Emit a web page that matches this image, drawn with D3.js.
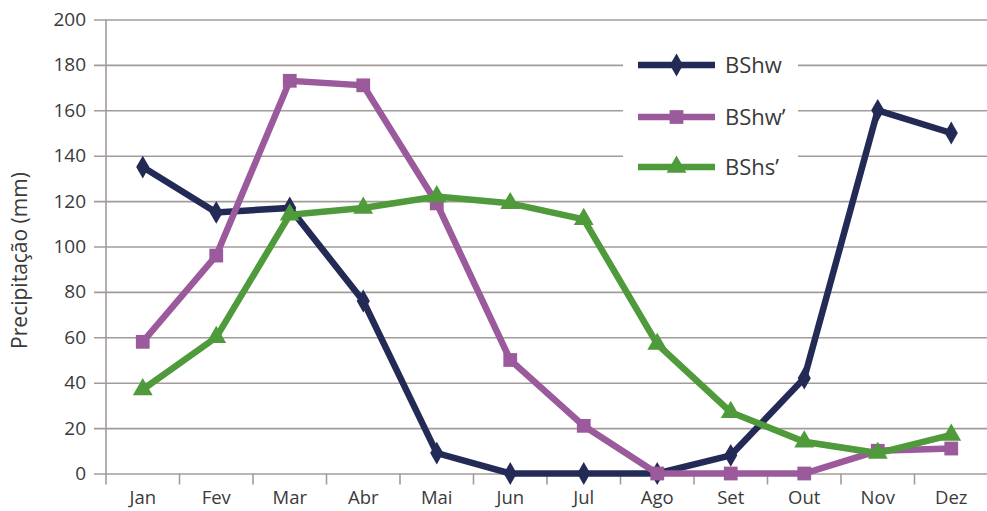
<!DOCTYPE html>
<html>
<head>
<meta charset="utf-8">
<script src="https://cdn.jsdelivr.net/npm/d3@7"></script>
<style>
  html, body { margin: 0; padding: 0; background: #ffffff; }
  svg { display: block; }
  text { font-family: "Open Sans", "Noto Sans", sans-serif; fill: #3a3a3a; }
</style>
</head>
<body>
<svg id="chart" width="987" height="511"></svg>
<script>
// Monthly precipitation (mm) for three semi-arid climate types
const months = ["Jan", "Fev", "Mar", "Abr", "Mai", "Jun", "Jul", "Ago", "Set", "Out", "Nov", "Dez"];
const bshw      = [135, 115, 117, 76, 9, 0, 0, 0, 8, 42, 160, 150];
const bshwPrime = [58, 96, 173, 171, 119, 50, 21, 0, 0, 0, 10, 11];
const bshsPrime = [37, 60, 114, 117, 122, 119, 112, 57, 27, 14, 9, 17];
const yTicks = [0, 20, 40, 60, 80, 100, 120, 140, 160, 180, 200];

const series = [
  { name: "BShw",  values: bshw,      color: "#232a56", marker: d3.symbolDiamond,  size: 150 },
  { name: "BShw\u2019", values: bshwPrime, color: "#9a5a9b", marker: d3.symbolSquare,   size: 190 },
  { name: "BShs\u2019", values: bshsPrime, color: "#4f9a3a", marker: d3.symbolTriangle, size: 170 }
];

const svg = d3.select("#chart");
const plotLeft = 106, plotRight = 988, plotTop = 19.5, plotBottom = 473.5;
const gridColor = "#a29c99";

const x = d3.scaleBand().domain(months).range([plotLeft, plotRight]);
const y = d3.scaleLinear().domain([0, 200]).range([plotBottom, plotTop]);

// horizontal gridlines with outward ticks
const yAxis = d3.axisLeft(y).tickValues(yTicks).tickSize(-(plotRight - plotLeft)).tickPadding(8);
const gy = svg.append("g").attr("transform", `translate(${plotLeft},0)`).call(yAxis);
gy.select(".domain").remove();
gy.selectAll(".tick line").attr("x1", -12).attr("stroke", gridColor).attr("stroke-width", 1.6);
gy.selectAll(".tick text").attr("x", -20).attr("font-size", 19).style("fill", "#3a3a3a");

// vertical axis line
svg.append("line").attr("x1", plotLeft).attr("x2", plotLeft)
  .attr("y1", plotTop).attr("y2", plotBottom + 11)
  .attr("stroke", gridColor).attr("stroke-width", 1.6);

// category axis, ticks sit between months
const gx = svg.append("g").attr("transform", `translate(0,${plotBottom})`)
  .call(d3.axisBottom(x).tickSize(0).tickPadding(17));
gx.select(".domain").remove();
gx.selectAll(".tick text").attr("font-size", 18.5).style("fill", "#3a3a3a");
svg.append("g").selectAll("line").data(months.slice(1))
  .join("line")
  .attr("x1", d => x(d)).attr("x2", d => x(d))
  .attr("y1", plotBottom).attr("y2", plotBottom + 11)
  .attr("stroke", gridColor).attr("stroke-width", 1.6);

// y axis title
svg.append("text")
  .attr("transform", `translate(27,${(plotTop + plotBottom) / 2 + 14}) rotate(-90)`)
  .attr("text-anchor", "middle").attr("font-size", 21)
  .text("Precipitação (mm)");

const line = d3.line().x((d, i) => x(months[i]) + x.bandwidth() / 2).y(d => y(d));

// legend background
svg.append("rect").attr("x", 623).attr("y", 40).attr("width", 175).attr("height", 150).attr("fill", "#ffffff");

series.forEach(s => {
  const g = svg.append("g");
  g.append("path").datum(s.values).attr("d", line)
    .attr("fill", "none").attr("stroke", s.color).attr("stroke-width", 6.5)
    .attr("stroke-linejoin", "miter");
  g.selectAll("path.m").data(s.values).join("path").attr("class", "m")
    .attr("transform", (d, i) => `translate(${x(months[i]) + x.bandwidth() / 2},${y(d)})`)
    .attr("d", d3.symbol(s.marker, s.size)).attr("fill", s.color);
});

// legend entries
const legY = [65, 117, 167];
series.forEach((s, i) => {
  const g = svg.append("g").attr("transform", `translate(638,${legY[i]})`);
  g.append("line").attr("x1", 0).attr("x2", 77).attr("stroke", s.color).attr("stroke-width", 6.5);
  g.append("path").attr("transform", "translate(38.5,0)").attr("d", d3.symbol(s.marker, s.size)).attr("fill", s.color);
  g.append("text").attr("x", 87).attr("y", 8).attr("font-size", 22).text(s.name);
});
</script>
</body>
</html>
